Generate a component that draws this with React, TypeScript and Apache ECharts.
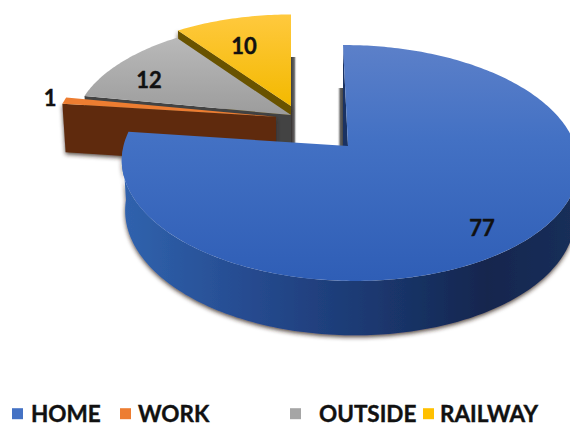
import React, { useEffect, useRef } from "react";
import * as echarts from "echarts";

// Share of time by place
const categories = ["HOME", "WORK", "OUTSIDE", "RAILWAY"];
const shares = [77, 1, 12, 10];

// Disk projection: a tilted circle with a little perspective
const RX = 226;
const RY = 115.5;
const CY = 146;
const PERSPECTIVE_V = 0.144;
const PERSPECTIVE_U = 0.0065;
const BASE_SHRINK = 0.985;

const FONT = "Lato, 'Open Sans', sans-serif";
const INK = "#111111";

const vGrad = (stops: [number, string][]) =>
  new echarts.graphic.LinearGradient(0, 0, 0, 1, stops.map(([offset, color]) => ({ offset, color })));
const hGrad = (stops: [number, string][]) =>
  new echarts.graphic.LinearGradient(0, 0, 1, 0, stops.map(([offset, color]) => ({ offset, color })));

// Where each wedge sits once pulled away from the pie, and how it is coloured
const wedgeStyle: Record<string, any> = {
  HOME: {
    ax: 348, au: 0, av: 0, lean: -5, reach: 1,
    top: vGrad([[0, "#5c80c9"], [0.4, "#4371c4"], [1, "#2f5eb6"]]),
    wall: "#1a3262",
    rim: [85, 268],
    rimFill: hGrad([[0, "#3063ae"], [0.3, "#25498d"], [0.55, "#1b3870"], [0.8, "#14264e"], [1, "#1a2f5a"]]),
    label: [482, 227],
    swatch: "#4472c4",
  },
  WORK: {
    ax: 276, au: -0.3, av: 0.263, lean: 0, reach: 1.014,
    top: "#ed7d31",
    wall: "#5f2c0a",
    label: [50, 97],
    swatch: "#ed7d31",
  },
  OUTSIDE: {
    ax: 291, au: -0.24, av: 0.279, lean: 0, reach: 1,
    top: vGrad([[0, "#b9b9b9"], [1, "#9c9c9c"]]),
    wall: "#434343",
    label: [149, 79],
    swatch: "#a5a5a5",
  },
  RAILWAY: {
    ax: 291, au: -0.24, av: 0.365, lean: 0, reach: 1,
    top: vGrad([[0, "#ffc93e"], [1, "#f3b900"]]),
    wall: "#695200",
    label: [244, 45],
    swatch: "#ffc000",
  },
};

const total = shares.reduce((a, b) => a + b, 0);
const startAngle = (index: number) =>
  (shares.slice(0, index).reduce((a, b) => a + b, 0) / total) * 360;

function project(w: any, deg: number, r: number) {
  const rad = (deg * Math.PI) / 180;
  const du = r * Math.sin(rad);
  const dv = r * Math.cos(rad);
  const u = w.au + du;
  const v = w.av + dv;
  const s = 1 / (1 + PERSPECTIVE_V * v - PERSPECTIVE_U * u);
  const x = w.ax + RX * w.reach * du * s + w.lean * dv;
  const y = CY - RY * v * s;
  return { x, y, bx: w.ax + (x - w.ax) * BASE_SHRINK, by: y + 24 + 26 * s };
}

function arc(w: any, from: number, to: number) {
  const out: ReturnType<typeof project>[] = [];
  const steps = Math.max(2, Math.ceil(to - from));
  for (let i = 0; i <= steps; i++) out.push(project(w, from + ((to - from) * i) / steps, 1));
  return out;
}

const softEdge = { shadowBlur: 4, shadowColor: "rgba(50,35,20,0.8)", shadowOffsetY: 2 };

function wedgeItem(name: string) {
  return (_params: any, api: any) => {
    const index = categories.indexOf(name);
    const w = wedgeStyle[name];
    const from = startAngle(index);
    const to = from + (api.value(0) / total) * 360;
    const apex = project(w, 0, 0);
    const outline = arc(w, from, to);
    const children: any[] = [];

    // Soft dark strip thrown behind the straight cut at 0 degrees
    if (name === "RAILWAY") {
      children.push({
        type: "rect",
        shape: { x: 291, y: 57, width: 6, height: 90 },
        style: { fill: hGrad([[0, "#3e3e3e"], [0.55, "#666666"], [1, "rgba(255,255,255,0)"]]) },
      });
    }
    if (name === "HOME") {
      children.push({
        type: "rect",
        shape: { x: 337, y: 88, width: 7, height: 58 },
        style: { fill: hGrad([[0, "rgba(255,255,255,0)"], [0.45, "#666666"], [1, "#3a3a3a"]]) },
      });
      const back = project(w, 0, 1);
      children.push({
        type: "polygon",
        shape: { points: [[back.x, back.y], [apex.x, apex.y], [back.x, apex.y]] },
        style: { fill: w.wall },
      });
    }

    // Cut wall along the leading edge of the wedge
    if (name !== "HOME") {
      const edge = project(w, from, 1);
      children.push({
        type: "polygon",
        shape: { points: [[edge.x, edge.y], [apex.x, apex.y], [apex.bx, apex.by], [edge.bx, edge.by]] },
        style: name === "OUTSIDE" ? { fill: w.wall } : { fill: w.wall, ...softEdge },
      });
    }

    // Curved rim of the large wedge
    if (w.rim) {
      const rim = arc(w, w.rim[0], w.rim[1]);
      children.push({
        type: "polygon",
        shape: {
          points: [
            ...rim.map((p) => [p.x, p.y]),
            ...rim.slice().reverse().map((p) => [p.bx, p.by]),
          ],
        },
        style: { fill: w.rimFill, ...softEdge },
      });
    }

    // Top face
    children.push({
      type: "polygon",
      shape: { points: [[apex.x, apex.y], ...outline.map((p) => [p.x, p.y])] },
      style: { fill: w.top },
    });

    children.push({
      type: "text",
      x: w.label[0],
      y: w.label[1],
      style: {
        text: String(api.value(0)),
        fill: INK,
        font: `bold 22px ${FONT}`,
        align: "center",
        verticalAlign: "middle",
        stroke: INK,
        lineWidth: 0.4,
      },
    });
    return { type: "group", children };
  };
}

// Painted back to front so nearer wedges overlap farther ones
const paintOrder = ["RAILWAY", "OUTSIDE", "WORK", "HOME"];

const legendSlots: Record<string, { left: number; top: number; gap: number }> = {
  HOME: { left: 12, top: 402, gap: 3 },
  WORK: { left: 120, top: 402, gap: 2 },
  OUTSIDE: { left: 290, top: 402, gap: 13 },
  RAILWAY: { left: 423, top: 402, gap: 1 },
};

export default function App() {
  const ref = useRef<HTMLDivElement>(null);
  useEffect(() => {
    document.body.style.margin = "0";
    const chart = echarts.init(ref.current!, null, { renderer: "svg" });
    chart.setOption({
      animation: false,
      backgroundColor: "#ffffff",
      legend: categories.map((name) => ({
        data: [name],
        left: legendSlots[name].left,
        top: legendSlots[name].top,
        padding: 0,
        itemWidth: 11,
        itemHeight: 11,
        icon: "rect",
        selectedMode: false,
        textStyle: {
          fontFamily: FONT,
          fontWeight: "bold",
          fontSize: 22.5,
          color: INK,
          textBorderColor: INK,
          textBorderWidth: 0.4,
          padding: [0, 0, 0, legendSlots[name].gap],
        },
      })),
      series: paintOrder.map((name) => ({
        type: "custom",
        name,
        coordinateSystem: "none",
        silent: true,
        itemStyle: { color: wedgeStyle[name].swatch },
        data: [[shares[categories.indexOf(name)]]],
        renderItem: wedgeItem(name),
      })),
    });
    return () => chart.dispose();
  }, []);
  return <div ref={ref} style={{ width: 570, height: 426 }} />;
}
